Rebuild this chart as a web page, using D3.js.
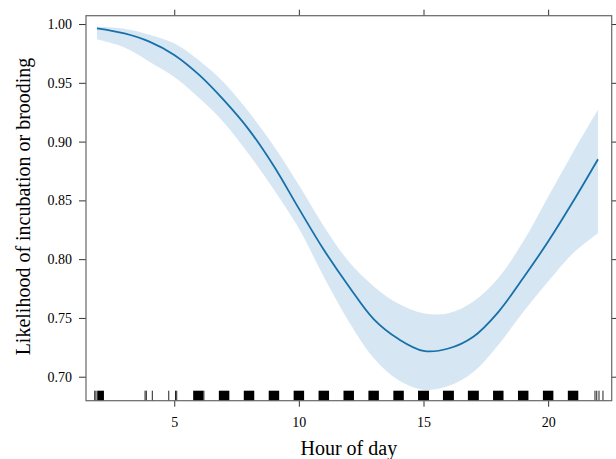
<!DOCTYPE html>
<html lang="en">

<head>
    <title>Likelihood of incubation or brooding by hour</title>
    <meta charset="UTF-8">
    <script src="https://cdn.jsdelivr.net/npm/d3@7"></script>
    <style>
        body {
            margin: 0;
            background: #fff;
        }

        svg text {
            font-family: "Liberation Serif", "Times New Roman", serif;
            fill: #000;
        }
    </style>
</head>

<body>
    <div id="chart"></div>

    <script>
        // fitted effect with 95% band
        const hours = [1.9, 3, 4, 5, 6, 7, 8, 9, 10, 11, 12, 13, 14, 15, 16, 17, 18, 19, 20, 21, 22];
        const fit = [0.9963, 0.992, 0.985, 0.9737, 0.9567, 0.935, 0.910, 0.879, 0.843, 0.808, 0.777,
            0.749, 0.732, 0.722, 0.724, 0.734, 0.755, 0.784, 0.815, 0.849, 0.885];
        const upper = [0.9977, 0.996, 0.991, 0.9836, 0.969, 0.950, 0.925, 0.896, 0.863, 0.828, 0.798,
            0.777, 0.762, 0.754, 0.754, 0.764, 0.784, 0.815, 0.853, 0.891, 0.927];
        const lower = [0.987, 0.980, 0.968, 0.955, 0.937, 0.916, 0.889, 0.859, 0.826, 0.785, 0.747,
            0.716, 0.697, 0.689, 0.692, 0.704, 0.727, 0.755, 0.781, 0.805, 0.822];

        // rug of observation times: single marks and dense clusters
        const rugSingles = [1.81, 1.86, 3.83, 3.88, 4.12, 4.78, 5.05, 5.1, 6.19, 21.88, 21.95, 22.04, 22.2];
        const rugBlocks = [[1.91, 2.18], [5.76, 6.17], [6.79, 7.21], [7.79, 8.21], [8.79, 9.21],
            [9.79, 10.21], [10.79, 11.21], [11.79, 12.21], [12.79, 13.21], [13.79, 14.21],
            [14.78, 15.22], [15.78, 16.22], [16.78, 17.22], [17.79, 18.21], [18.79, 19.21],
            [19.79, 20.21], [20.79, 21.21]];

        const xTicks = [5, 10, 15, 20];
        const yTicks = [0.70, 0.75, 0.80, 0.85, 0.90, 0.95, 1.00];

        const width = 616, height = 459;
        const margin = { top: 15.7, right: 4.3, bottom: 58.3, left: 86 };
        const w = width - margin.left - margin.right;
        const h = height - margin.top - margin.bottom;

        const svg = d3.select("#chart")
            .append("svg")
            .attr("width", width)
            .attr("height", height);

        const g = svg.append("g")
            .attr("transform", `translate(${margin.left},${margin.top})`);

        const x = d3.scaleLinear().domain([1.46, 22.55]).range([0, w]);
        const y = d3.scaleLinear().domain([0.6796, 1.0071]).range([h, 0]);

        const rows = hours.map((hr, i) => ({ hr, fit: fit[i], lo: lower[i], hi: upper[i] }));

        g.append("path")
            .datum(rows)
            .attr("fill", "#d6e7f3")
            .attr("d", d3.area()
                .x(d => x(d.hr))
                .y0(d => y(d.lo))
                .y1(d => y(d.hi))
                .curve(d3.curveCatmullRom));

        g.append("path")
            .datum(rows)
            .attr("fill", "none")
            .attr("stroke", "#1770aa")
            .attr("stroke-width", 1.8)
            .attr("d", d3.line()
                .x(d => x(d.hr))
                .y(d => y(d.fit))
                .curve(d3.curveCatmullRom));

        // rug
        g.selectAll(".rug-block")
            .data(rugBlocks)
            .join("rect")
            .attr("class", "rug-block")
            .attr("x", d => x(d[0]))
            .attr("width", d => x(d[1]) - x(d[0]))
            .attr("y", h - 10)
            .attr("height", 10)
            .attr("fill", "#000");

        g.selectAll(".rug-line")
            .data(rugSingles)
            .join("line")
            .attr("class", "rug-line")
            .attr("x1", d => x(d))
            .attr("x2", d => x(d))
            .attr("y1", h - 10)
            .attr("y2", h)
            .attr("stroke", "#222")
            .attr("stroke-width", 1);

        // axes
        const styleAxis = sel => {
            sel.select(".domain").remove();
            sel.selectAll(".tick line").attr("stroke", "#333");
            sel.selectAll("text").attr("font-size", 14).attr("fill", "#000");
        };

        g.append("g")
            .attr("transform", `translate(0,${h})`)
            .call(d3.axisBottom(x).tickValues(xTicks).tickSize(6).tickPadding(10))
            .call(styleAxis);

        g.append("g")
            .call(d3.axisTop(x).tickValues(xTicks).tickSize(6).tickFormat(""))
            .call(styleAxis);

        g.append("g")
            .call(d3.axisLeft(y).tickValues(yTicks).tickSize(7).tickPadding(7)
                .tickFormat(d3.format(".2f")))
            .call(styleAxis);

        g.append("g")
            .attr("transform", `translate(${w},0)`)
            .call(d3.axisRight(y).tickValues(yTicks).tickSize(6).tickFormat(""))
            .call(styleAxis);

        g.append("rect")
            .attr("width", w)
            .attr("height", h)
            .attr("fill", "none")
            .attr("stroke", "#666")
            .attr("stroke-width", 1.2);

        svg.append("text")
            .attr("text-anchor", "middle")
            .attr("x", margin.left + w / 2)
            .attr("y", 455)
            .attr("font-size", 20)
            .text("Hour of day");

        svg.append("text")
            .attr("text-anchor", "middle")
            .attr("transform", "translate(30,206.5) rotate(-90)")
            .attr("font-size", 20)
            .text("Likelihood of incubation or brooding");
    </script>
</body>

</html>
